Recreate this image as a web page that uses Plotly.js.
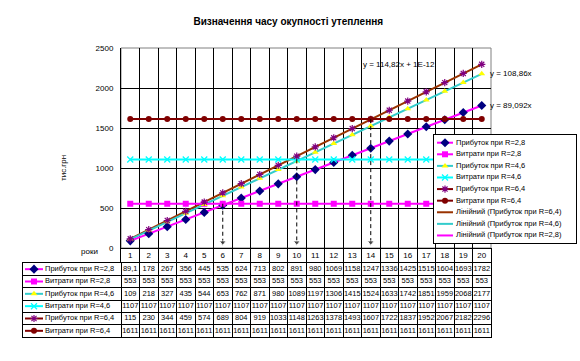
<!DOCTYPE html>
<html><head><meta charset="utf-8">
<script src="https://cdn.plot.ly/plotly-3.0.1.min.js"></script>
<style>html,body{margin:0;padding:0;background:#fff}#chart{width:580px;height:361px}</style>
</head><body><div id="chart"></div>
<script>
// ---------- data ----------
const years = [1,2,3,4,5,6,7,8,9,10,11,12,13,14,15,16,17,18,19,20];
const profit28 = [89.1,178,267,356,445,535,624,713,802,891,980,1069,1158,1247,1336,1425,1515,1604,1693,1782];
const cost28   = [553,553,553,553,553,553,553,553,553,553,553,553,553,553,553,553,553,553,553,553];
const profit46 = [109,218,327,435,544,653,762,871,980,1089,1197,1306,1415,1524,1633,1742,1851,1959,2068,2177];
const cost46   = [1107,1107,1107,1107,1107,1107,1107,1107,1107,1107,1107,1107,1107,1107,1107,1107,1107,1107,1107,1107];
const profit64 = [115,230,344,459,574,689,804,919,1033,1148,1263,1378,1493,1607,1722,1837,1952,2067,2182,2296];
const cost64   = [1611,1611,1611,1611,1611,1611,1611,1611,1611,1611,1611,1611,1611,1611,1611,1611,1611,1611,1611,1611];
const seriesNames = ['Прибуток при R=2,8','Витрати при R=2,8','Прибуток при R=4,6','Витрати при R=4,6','Прибуток при R=6,4','Витрати при R=6,4'];
const trendNames = ['Лінійний (Прибуток при R=6,4)','Лінійний (Прибуток при R=4,6)','Лінійний (Прибуток при R=2,8)'];
const equationTexts = ['y = 114,82x + 1E-12','y = 108,86x','y = 89,092x'];
const paybackYears = [6,10,14];
const paybackFrom = [553,1107,1611];
const yTicks = [0,500,1000,1500,2000,2500];
const chartTitle = 'Визначення часу окупності утеплення';
const yTitle = 'тис.грн';
const xTitle = 'роки';

// ---------- styles / layout constants ----------
const W=580,H=361;
const FONT='Arial, Liberation Sans, sans-serif';
const plotL=121, plotR=491, plotT=48, plotB=248;
const headB=263, bodyB=337, tabL=23;
const legL=434, legR=576, legT=135, legB=243;
const unit=(plotR-plotL)/years.length;
const u=px=>0.5+(px-plotL)/unit;
const dx=(a,b)=>[a/W,b/W];
const dy=(t,b)=>[1-b/H,1-t/H];

const seriesData=[profit28,cost28,profit46,cost46,profit64,cost64];
const isProfit=[true,false,true,false,true,false];
const styles=[
 {line:'#FF00FF', m:{symbol:'diamond', color:'#000080', size:7}},
 {line:'#FF00FF', m:{symbol:'square', color:'#FF00FF', size:6}},
 {line:'#33CCCC', m:{symbol:'triangle-up', color:'#FFFF00', size:6}},
 {line:'#00FFFF', m:{symbol:'x-thin-open', color:'#00FFFF', size:6, line:{color:'#00FFFF',width:1.3}}},
 {line:'#800000', m:{symbol:'asterisk-open', color:'#800080', size:6, line:{color:'#800080',width:1.2}}},
 {line:'#800000', m:{symbol:'circle', color:'#800000', size:6}},
];
const trendSeries=[profit64,profit46,profit28];
const trendColors=['#993300','#33CCCC','#FF00FF'];

const traces=[];
// trendlines (least squares through origin, computed from data)
const trendVals = trendSeries.map(s=>{
  let sxy=0,sxx=0; s.forEach((v,i)=>{sxy+=years[i]*v; sxx+=years[i]*years[i];});
  const k=sxy/sxx; return years.map(x=>k*x);
});
trendSeries.forEach((s,i)=>{
  traces.push({type:'scatter',mode:'lines',x:years,y:trendVals[i],line:{color:trendColors[i],width:2},
    hoverinfo:'skip',showlegend:false,xaxis:'x',yaxis:'y',cliponaxis:false});
});
// series
seriesData.forEach((s,i)=>{
  const st=styles[i];
  traces.push({type:'scatter',mode:isProfit[i]?'markers':'lines+markers',x:years,y:s,
    line:{color:st.line,width:2},marker:st.m,hoverinfo:'skip',showlegend:false,xaxis:'x',yaxis:'y',cliponaxis:false});
});
// payback arrows
paybackYears.forEach((yr,i)=>{
  traces.push({type:'scatter',mode:'lines+markers',x:[yr,yr],y:[paybackFrom[i],70],
    line:{color:'#000',width:1,dash:'4px,3px'},marker:{symbol:'triangle-down',size:[0,6],color:'#000'},
    hoverinfo:'skip',showlegend:false,xaxis:'x',yaxis:'y',cliponaxis:false});
});
// table header (category numbers)
traces.push({type:'scatter',mode:'text',x:years,y:years.map(()=>0.5),text:years.map(String),
  textfont:{family:FONT,size:8,color:'#000'},hoverinfo:'skip',showlegend:false,xaxis:'x2',yaxis:'y2',cliponaxis:false});
// table body
const fmt=v=>String(v).replace('.',',');
seriesData.forEach((s,i)=>{
  const row=i+1, st=styles[i];
  traces.push({type:'scatter',mode:'text',x:years,y:years.map(()=>row),text:s.map(fmt),
    textfont:{family:FONT,size:7.5,color:'#000'},hoverinfo:'skip',showlegend:false,xaxis:'x3',yaxis:'y3',cliponaxis:false});
  traces.push({type:'scatter',mode:'lines',x:[u(25),u(43)],y:[row,row],line:{color:st.line,width:2},
    hoverinfo:'skip',showlegend:false,xaxis:'x3',yaxis:'y3',cliponaxis:false});
  traces.push({type:'scatter',mode:'markers',x:[u(34)],y:[row],marker:st.m,
    hoverinfo:'skip',showlegend:false,xaxis:'x3',yaxis:'y3',cliponaxis:false});
  traces.push({type:'scatter',mode:'text',x:[u(45)],y:[row],text:[seriesNames[i]],textposition:'middle right',
    textfont:{family:FONT,size:7.5,color:'#000'},hoverinfo:'skip',showlegend:false,xaxis:'x3',yaxis:'y3',cliponaxis:false});
});
// custom legend
const legItems=[];
seriesNames.forEach((n,i)=>legItems.push({name:n,line:styles[i].line,m:styles[i].m}));
trendNames.forEach((n,i)=>legItems.push({name:n,line:trendColors[i],m:null}));
legItems.forEach((it,i)=>{
  const row=i+1;
  traces.push({type:'scatter',mode:'lines',x:[3,19],y:[row,row],line:{color:it.line,width:2},
    hoverinfo:'skip',showlegend:false,xaxis:'x4',yaxis:'y4',cliponaxis:false});
  if(it.m) traces.push({type:'scatter',mode:'markers',x:[11],y:[row],marker:it.m,
    hoverinfo:'skip',showlegend:false,xaxis:'x4',yaxis:'y4',cliponaxis:false});
  traces.push({type:'scatter',mode:'text',x:[22],y:[row],text:[it.name],textposition:'middle right',
    textfont:{family:FONT,size:7.5,color:'#000'},hoverinfo:'skip',showlegend:false,xaxis:'x4',yaxis:'y4',cliponaxis:false});
});

const bounds=years.slice(0,-1).map(y=>y+0.5);
const noAx={showgrid:false,zeroline:false,showticklabels:false,ticks:'',fixedrange:true};
const layout={
  width:W,height:H,margin:{l:0,r:0,t:0,b:0},paper_bgcolor:'#fff',plot_bgcolor:'#fff',
  showlegend:false,
  font:{family:FONT,size:8,color:'#000'},
  title:{text:'<b>'+chartTitle+'</b>',font:{family:FONT,size:10,color:'#000'},x:0.497,xanchor:'center',y:1-21/H,yanchor:'middle'},
  xaxis:Object.assign({},noAx,{domain:dx(plotL,plotR),range:[0.5,20.5],anchor:'y',tickmode:'array',tickvals:bounds,
    showgrid:true,gridcolor:'#000',gridwidth:1,showline:true,linecolor:'#000',linewidth:1}),
  yaxis:{domain:dy(plotT,plotB),range:[0,2500],anchor:'x',tickmode:'array',tickvals:yTicks,ticks:'',ticklabelstandoff:5,
    tickfont:{family:FONT,size:8,color:'#000'},showgrid:false,zeroline:false,showline:true,linecolor:'#000',linewidth:1,fixedrange:true,
    minor:{tickmode:'array',tickvals:yTicks.slice(1,-1),showgrid:true,gridcolor:'#000',gridwidth:1,ticks:''}},
  xaxis2:Object.assign({},noAx,{domain:dx(plotL,plotR),range:[0.5,20.5],anchor:'y2',tickmode:'array',tickvals:bounds,
    showgrid:true,gridcolor:'#000',gridwidth:1}),
  yaxis2:Object.assign({},noAx,{domain:dy(plotB,headB),range:[0,1],anchor:'x2',showline:true,mirror:true,linecolor:'#000',linewidth:1}),
  xaxis3:Object.assign({},noAx,{domain:dx(tabL,plotR),range:[u(tabL),20.5],anchor:'y3',tickmode:'array',tickvals:[0.5].concat(bounds),
    showgrid:true,gridcolor:'#000',gridwidth:1,showline:true,mirror:true,linecolor:'#000',linewidth:1}),
  yaxis3:Object.assign({},noAx,{domain:dy(headB,bodyB),range:[6.5,0.5],anchor:'x3',tickmode:'array',tickvals:[1.5,2.5,3.5,4.5,5.5],
    showgrid:true,gridcolor:'#000',gridwidth:1,showline:true,mirror:true,linecolor:'#000',linewidth:1}),
  xaxis4:Object.assign({},noAx,{domain:dx(legL,legR),range:[0,legR-legL],anchor:'y4',showline:true,mirror:true,linecolor:'#000',linewidth:1}),
  yaxis4:Object.assign({},noAx,{domain:dy(legT,legB),range:[9.65,0.336],anchor:'x4',showline:true,mirror:true,linecolor:'#000',linewidth:1}),
  shapes:[{type:'rect',xref:'x domain',yref:'y domain',x0:0,x1:1,y0:0,y1:1,line:{color:'#808080',width:1},layer:'below'}],
  annotations:[
    {text:equationTexts[0],xref:'x',yref:'y',x:15.5,y:2290,showarrow:false,xanchor:'center',yanchor:'middle',font:{family:FONT,size:8,color:'#000'}},
    {text:equationTexts[1],xref:'x',yref:'y',x:20,y:trendVals[1][19],xshift:6,showarrow:false,xanchor:'left',yanchor:'middle',font:{family:FONT,size:8,color:'#000'}},
    {text:equationTexts[2],xref:'x',yref:'y',x:20,y:trendVals[2][19],xshift:6,showarrow:false,xanchor:'left',yanchor:'middle',font:{family:FONT,size:8,color:'#000'}},
    {text:yTitle,xref:'paper',yref:'paper',x:63/W,y:1-168/H,textangle:-90,showarrow:false,xanchor:'center',yanchor:'middle',font:{family:FONT,size:8,color:'#000'}},
    {text:xTitle,xref:'paper',yref:'paper',x:89/W,y:1-251/H,showarrow:false,xanchor:'center',yanchor:'middle',font:{family:FONT,size:8,color:'#000'}}
  ]
};
Plotly.newPlot('chart',traces,layout,{staticPlot:true,displayModeBar:false});
</script></body></html>
